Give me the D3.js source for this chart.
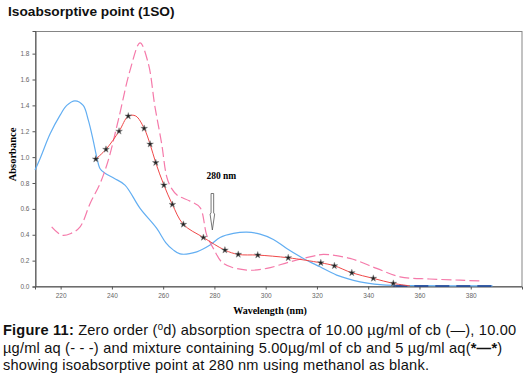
<!DOCTYPE html>
<html>
<head>
<meta charset="utf-8">
<script src="https://cdn.jsdelivr.net/npm/d3@7"></script>
<style>
  body { margin: 0; background: #fff; }
  svg { display: block; }
</style>
</head>
<body>
<svg id="chart"></svg>
<script>
// cb 10 ug/ml (solid blue)
const cbWl  = [210, 212, 215.9, 219.8, 222.4, 225.6, 228.8, 230.8, 232.7, 234.1, 235.4, 237.3, 241, 245.1, 251, 257.5, 261, 263.8, 266.6, 273.1, 278.3, 282.2, 287.4, 292.6, 297.8, 303, 308.2, 314.7, 321.2, 327.7, 336.8, 344.6, 352, 360, 375, 388.5];
const cbAbs = [0.90, 0.99, 1.18, 1.325, 1.40, 1.435, 1.40, 1.286, 1.13, 1.00, 0.91, 0.876, 0.835, 0.784, 0.604, 0.449, 0.34, 0.285, 0.252, 0.268, 0.32, 0.379, 0.41, 0.42, 0.405, 0.364, 0.294, 0.217, 0.152, 0.088, 0.036, 0.014, 0.008, 0.006, 0.005, 0.005];

// aq 10 ug/ml (dashed pink)
const aqWl  = [216.5, 220.4, 224, 227.6, 231.5, 235.4, 238.6, 242.5, 247.1, 251, 254.2, 256.8, 259.4, 261.4, 263.2, 265.5, 270.5, 274.4, 277, 279.6, 283.5, 292.6, 300.4, 309.5, 318.6, 322.5, 332.9, 343.3, 352.4, 364, 375.8, 384.3];
const aqAbs = [0.461, 0.397, 0.41, 0.461, 0.642, 0.797, 0.977, 1.286, 1.672, 1.883, 1.724, 1.389, 1.106, 0.848, 0.76, 0.706, 0.66, 0.61, 0.397, 0.294, 0.178, 0.127, 0.14, 0.191, 0.235, 0.248, 0.217, 0.14, 0.075, 0.058, 0.049, 0.042];

// mixture 5 + 5 ug/ml (red line with stars)
const mixWl  = [233.7, 237.7, 242.8, 246.4, 249.3, 252.6, 254.9, 257.1, 260.3, 263.6, 267.9, 275.7, 284.1, 289.3, 296.9, 308.8, 321.5, 326.8, 333.6, 342, 349.8, 356.3];
const mixAbs = [0.985, 1.06, 1.20, 1.317, 1.318, 1.222, 1.10, 0.957, 0.784, 0.634, 0.48, 0.379, 0.281, 0.248, 0.243, 0.222, 0.183, 0.16, 0.106, 0.063, 0.024, 0.005];
const starWl  = [233.7, 237.7, 242.8, 246.4, 252.6, 254.9, 257.1, 260.3, 263.6, 267.9, 275.7, 284.1, 289.3, 296.9, 308.8, 321.5, 326.8, 333.6, 342, 349.8];
const starAbs = [0.985, 1.06, 1.20, 1.317, 1.222, 1.10, 0.957, 0.784, 0.634, 0.48, 0.379, 0.281, 0.248, 0.243, 0.222, 0.183, 0.16, 0.106, 0.063, 0.024];

// baseline overlap segment (navy)
const baseWl  = [349.8, 388.5];
const baseAbs = [0.004, 0.004];

const xTicks = [220, 240, 260, 280, 300, 320, 340, 360, 380];
const yTicks = [0, 0.2, 0.4, 0.6, 0.8, 1.0, 1.2, 1.4, 1.6, 1.8];
const isoWl = 279.2;

const W = 532, H = 385;
const svg = d3.select('#chart').attr('width', W).attr('height', H);

const x = d3.scaleLinear().domain([210, 400]).range([35, 522]);
const y = d3.scaleLinear().domain([0, 1.975]).range([286.5, 31]);

// title
svg.append('text')
  .attr('x', 8).attr('y', 16)
  .style('font-family', 'Liberation Sans, Arial, sans-serif')
  .style('font-weight', 'bold').style('font-size', '13.7px')
  .attr('fill', '#111')
  .text('Isoabsorptive point (1SO)');

// frame
svg.append('rect')
  .attr('x', 35.5).attr('y', 31.5)
  .attr('width', 522 - 35.5).attr('height', 286.5 - 31.5)
  .attr('fill', 'none').attr('stroke', '#858585').attr('stroke-width', 1);

const xAxis = d3.axisBottom(x).tickValues(xTicks).tickSize(3).tickFormat(d3.format('d'));
const yAxis = d3.axisLeft(y).tickValues(yTicks).tickSize(3).tickFormat(d3.format('.1f'));

const gx = svg.append('g').attr('transform', 'translate(0,286.5)').call(xAxis);
const gy = svg.append('g').attr('transform', 'translate(35.5,0)').call(yAxis);
[gx, gy].forEach(g => {
  g.select('.domain').attr('stroke', '#555');
  g.selectAll('.tick line').attr('stroke', '#555');
  g.selectAll('.tick text')
    .attr('fill', '#666')
    .style('font-family', 'Liberation Sans, Arial, sans-serif')
    .style('font-size', '6.5px');
});
gx.selectAll('.tick text').attr('dy', '0.9em');

// axis labels
svg.append('text')
  .attr('x', 270).attr('y', 313.5)
  .attr('text-anchor', 'middle')
  .style('font-family', 'Liberation Serif, Times New Roman, serif')
  .style('font-weight', 'bold').style('font-size', '10px')
  .text('Wavelength (nm)');
svg.append('text')
  .attr('transform', 'translate(15.5,154.5) rotate(-90)')
  .attr('text-anchor', 'middle')
  .style('font-family', 'Liberation Serif, Times New Roman, serif')
  .style('font-weight', 'bold').style('font-size', '10.5px')
  .text('Absorbance');

const line = d3.line()
  .x(d => x(d[0])).y(d => y(d[1]))
  .curve(d3.curveCatmullRom.alpha(0.5));

svg.append('path')
  .datum(d3.zip(cbWl, cbAbs))
  .attr('d', line)
  .attr('fill', 'none').attr('stroke', '#62aef2').attr('stroke-width', 1.2);

svg.append('path')
  .datum(d3.zip(baseWl, baseAbs))
  .attr('d', line)
  .attr('fill', 'none').attr('stroke', '#1d3f8f').attr('stroke-width', 1.5)
  .attr('stroke-dasharray', '14,7');

svg.append('path')
  .datum(d3.zip(aqWl, aqAbs))
  .attr('d', line)
  .attr('fill', 'none').attr('stroke', '#f57aaa').attr('stroke-width', 1.2)
  .attr('stroke-dasharray', '10,4');

svg.append('path')
  .datum(d3.zip(mixWl, mixAbs))
  .attr('d', line)
  .attr('fill', 'none').attr('stroke', '#f04848').attr('stroke-width', 1);

svg.selectAll('.star')
  .data(d3.zip(starWl, starAbs))
  .enter().append('path')
  .attr('class', 'star')
  .attr('transform', d => `translate(${x(d[0])},${y(d[1])})`)
  .attr('d', d3.symbol(d3.symbolStar, 14))
  .attr('fill', '#222').attr('stroke', '#888').attr('stroke-width', 0.5);

// isoabsorptive arrow + label
const ax = x(isoWl);
svg.append('path')
  .attr('d', `M${ax - 1.3},193.5 L${ax + 1.3},193.5 L${ax + 1.3},213 L${ax + 2.3},214 L${ax},230 L${ax - 2.3},214 L${ax - 1.3},213 Z`)
  .attr('fill', '#fff').attr('stroke', '#555').attr('stroke-width', 0.8);
svg.append('text')
  .attr('x', ax + 9).attr('y', 178.5)
  .attr('text-anchor', 'middle')
  .style('font-family', 'Liberation Serif, Times New Roman, serif')
  .style('font-weight', 'bold').style('font-size', '9.5px')
  .text('280 nm');

// caption
const cap = svg.append('text')
  .style('font-family', 'Liberation Sans, Arial, sans-serif')
  .style('font-size', '14.6px')
  .style('letter-spacing', '0.2px')
  .attr('fill', '#111');
const l1 = cap.append('tspan').attr('x', 3).attr('y', 335);
l1.append('tspan').style('font-weight', 'bold').text('Figure 11:');
l1.append('tspan').text(' Zero order (');
l1.append('tspan').attr('dy', -5).style('font-size', '9.5px').text('0');
l1.append('tspan').attr('dy', 5).text('d) absorption spectra of 10.00 µg/ml of cb (—), 10.00');
const l2 = cap.append('tspan').attr('x', 3).attr('y', 352.5);
l2.append('tspan').text('µg/ml aq (- - -) and mixture containing 5.00µg/ml of cb and 5 µg/ml aq(');
l2.append('tspan').style('font-weight', 'bold').text('*—*');
l2.append('tspan').text(')');
cap.append('tspan').attr('x', 3).attr('y', 370)
  .text('showing isoabsorptive point at 280 nm using methanol as blank.');
</script>
</body>
</html>
